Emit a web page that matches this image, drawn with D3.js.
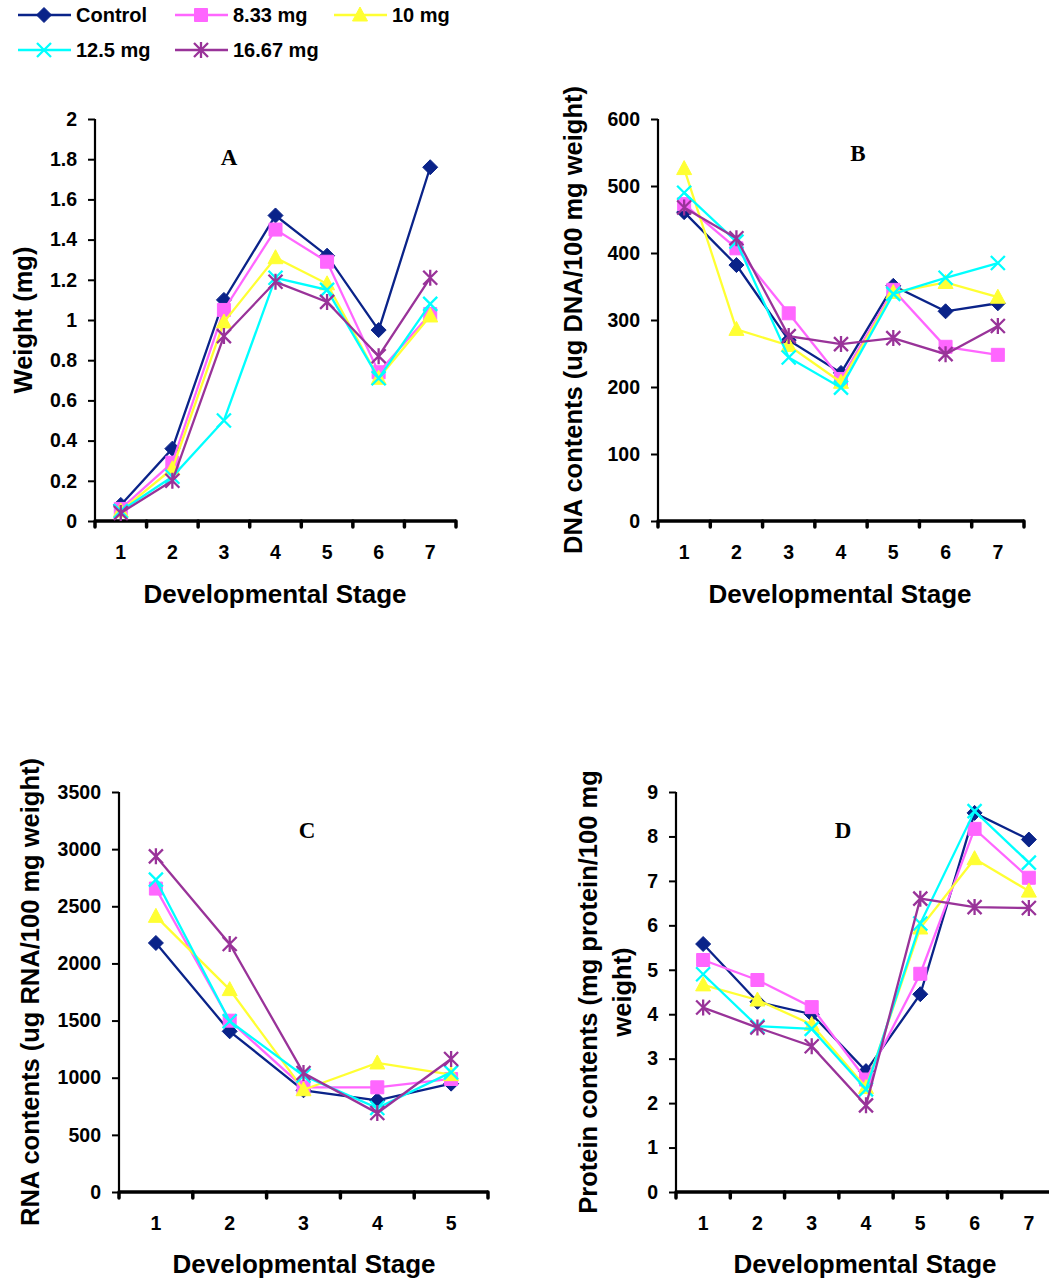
<!DOCTYPE html>
<html lang="en">
<head>
<meta charset="utf-8">
<title>Developmental stage charts</title>
<script src="https://cdn.jsdelivr.net/npm/d3@7"></script>
<style>
  body { margin: 0; background: #fff; }
  svg text { font-family: "Liberation Sans", Arial, sans-serif; font-weight: bold; fill: #000; }
  .letter { font-family: "Liberation Serif", "Times New Roman", serif; font-size: 23px; }
</style>
</head>
<body>
<script>

// series
var seriesNames = ["Control", "8.33 mg", "10 mg", "12.5 mg", "16.67 mg"];
var seriesColors = ["#0a2389", "#ff66ff", "#ffff33", "#00ffff", "#993399"];
var markerTypes = ["diamond", "square", "triangle", "cross", "star"];

var stages7 = [1, 2, 3, 4, 5, 6, 7];
var stages5 = [1, 2, 3, 4, 5];

// A - weight (mg), one row per series
var weightValues = [
  [0.08, 0.36, 1.10, 1.52, 1.32, 0.95, 1.76],
  [0.06, 0.29, 1.05, 1.45, 1.29, 0.74, 1.03],
  [0.05, 0.26, 0.99, 1.31, 1.18, 0.71, 1.02],
  [0.05, 0.22, 0.50, 1.21, 1.15, 0.71, 1.08],
  [0.04, 0.20, 0.92, 1.19, 1.09, 0.82, 1.21]
];
// B - DNA
var dnaValues = [
  [461, 382, 270, 221, 351, 313, 325],
  [473, 407, 310, 212, 345, 260, 248],
  [526, 286, 262, 207, 341, 356, 334],
  [490, 417, 244, 199, 339, 363, 385],
  [468, 422, 276, 264, 273, 249, 291]
];
// C - RNA
var rnaValues = [
  [2179, 1406, 890, 802, 948],
  [2655, 1499, 916, 916, 989],
  [2412, 1771, 895, 1129, 1027],
  [2733, 1494, 1018, 735, 1047],
  [2937, 2170, 1041, 691, 1164]
];
// D - protein
var proteinValues = [
  [5.58, 4.28, 4.00, 2.72, 4.45, 8.53, 7.93],
  [5.22, 4.77, 4.16, 2.53, 4.91, 8.17, 7.07],
  [4.66, 4.32, 3.77, 2.35, 5.94, 7.50, 6.77],
  [4.90, 3.73, 3.67, 2.31, 6.04, 8.57, 7.41],
  [4.15, 3.70, 3.28, 1.95, 6.60, 6.41, 6.39]
];

var weightTicks = [0, 0.2, 0.4, 0.6, 0.8, 1, 1.2, 1.4, 1.6, 1.8, 2];
var dnaTicks = [0, 100, 200, 300, 400, 500, 600];
var rnaTicks = [0, 500, 1000, 1500, 2000, 2500, 3000, 3500];
var proteinTicks = [0, 1, 2, 3, 4, 5, 6, 7, 8, 9];

var svg = d3.select("body").append("svg")
  .attr("width", 1049)
  .attr("height", 1281);

var panels = [
  { letter: "A", stages: stages7, values: weightValues, ticks: weightTicks,
    x0: 95, x1: 456, yTop: 119, yBot: 521, letterX: 229, letterY: 165,
    yLabel: ["Weight (mg)"], yLabelX: [23], titleX: 275, titleY: 603 },
  { letter: "B", stages: stages7, values: dnaValues, ticks: dnaTicks,
    x0: 658, x1: 1024, yTop: 119, yBot: 521, letterX: 858, letterY: 161,
    yLabel: ["DNA contents (ug DNA/100 mg weight)"], yLabelX: [573], titleX: 840, titleY: 603 },
  { letter: "C", stages: stages5, values: rnaValues, ticks: rnaTicks,
    x0: 119, x1: 488, yTop: 792, yBot: 1192, letterX: 307, letterY: 838,
    yLabel: ["RNA contents (ug RNA/100 mg weight)"], yLabelX: [30], titleX: 304, titleY: 1273 },
  { letter: "D", stages: stages7, values: proteinValues, ticks: proteinTicks,
    x0: 676, x1: 1056, yTop: 792, yBot: 1192, letterX: 843, letterY: 838,
    yLabel: ["Protein contents (mg protein/100 mg", "weight)"], yLabelX: [588, 622], titleX: 865, titleY: 1273 }
];

function markerPath(type) {
  switch (type) {
    case "diamond": return "M0,-7.5L7.5,0L0,7.5L-7.5,0Z";
    case "square": return "M-6.5,-6.5H6.5V6.5H-6.5Z";
    case "triangle": return "M0,-8L7.5,6H-7.5Z";
    case "cross": return "M-7,-7L7,7M-7,7L7,-7";
    case "star": return "M-7,-7L7,7M-7,7L7,-7M0,-8V8";
  }
}

function drawMarker(sel, i) {
  var t = markerTypes[i];
  var filled = (t === "diamond" || t === "square" || t === "triangle");
  sel.append("path")
    .attr("d", markerPath(t))
    .attr("fill", filled ? seriesColors[i] : "none")
    .attr("stroke", seriesColors[i])
    .attr("stroke-width", filled ? 1 : 2.3);
}

panels.forEach(function(p) {
  var g = svg.append("g");
  var max = p.ticks[p.ticks.length - 1];

  var x = d3.scaleBand().domain(p.stages).range([p.x0, p.x1]);
  var y = d3.scaleLinear().domain([0, max]).range([p.yBot, p.yTop]);

  // y axis
  var yAxis = d3.axisLeft(y)
    .tickValues(p.ticks)
    .tickSize(7)
    .tickPadding(11)
    .tickFormat(function(d) { return String(d); });
  var ya = g.append("g")
    .attr("transform", "translate(" + p.x0 + ",0)")
    .call(yAxis);
  ya.select(".domain").remove();
  ya.selectAll("line").attr("stroke", "#000").attr("stroke-width", 2);
  ya.selectAll("text").attr("font-size", 19.5).attr("font-family", null);
  g.append("line")
    .attr("x1", p.x0).attr("x2", p.x0)
    .attr("y1", y(max)).attr("y2", p.yBot)
    .attr("stroke", "#000").attr("stroke-width", 2.2);

  // x axis
  var xAxis = d3.axisBottom(x).tickSize(0).tickPadding(24);
  var xa = g.append("g")
    .attr("transform", "translate(0," + p.yBot + ")")
    .call(xAxis);
  xa.select(".domain").remove();
  xa.selectAll("text").attr("font-size", 19.5).attr("font-family", null);

  var bounds = p.stages.map(function(d) { return x(d); }).concat([x.range()[1]]);
  g.selectAll(".xtick")
    .data(bounds)
    .enter().append("line")
    .attr("class", "xtick")
    .attr("x1", function(d) { return d; })
    .attr("x2", function(d) { return d; })
    .attr("y1", p.yBot)
    .attr("y2", p.yBot + 6)
    .attr("stroke", "#000")
    .attr("stroke-width", 3.5)
    .attr("stroke-linecap", "round");
  g.append("line")
    .attr("x1", x.range()[0]).attr("x2", x.range()[1])
    .attr("y1", p.yBot).attr("y2", p.yBot)
    .attr("stroke", "#000").attr("stroke-width", 3.5);

  // series
  var line = d3.line()
    .x(function(d, i) { return x(p.stages[i]) + x.bandwidth() / 2; })
    .y(function(d) { return y(d); });

  p.values.forEach(function(vals, si) {
    var s = g.append("g");
    s.append("path")
      .attr("d", line(vals))
      .attr("fill", "none")
      .attr("stroke", seriesColors[si])
      .attr("stroke-width", 2.3);
    s.selectAll(".pt")
      .data(vals)
      .enter().append("g")
      .attr("class", "pt")
      .attr("transform", function(d, i) {
        return "translate(" + (x(p.stages[i]) + x.bandwidth() / 2) + "," + y(d) + ")";
      })
      .each(function() { drawMarker(d3.select(this), si); });
  });

  // labels
  g.append("text")
    .attr("class", "letter")
    .attr("x", p.letterX).attr("y", p.letterY)
    .attr("text-anchor", "middle")
    .text(p.letter);

  g.append("text")
    .attr("x", p.titleX).attr("y", p.titleY)
    .attr("text-anchor", "middle")
    .attr("font-size", 26)
    .text("Developmental Stage");

  var midY = (p.yTop + p.yBot) / 2;
  p.yLabel.forEach(function(t, k) {
    g.append("text")
      .attr("transform", "translate(" + p.yLabelX[k] + "," + midY + ") rotate(-90)")
      .attr("text-anchor", "middle")
      .attr("dy", "0.36em")
      .attr("font-size", 25.5)
      .text(t);
  });
});

// legend
var legendPos = [[18, 15], [175, 15], [334, 15], [18, 50], [175, 50]];
var legend = svg.append("g");
seriesNames.forEach(function(name, i) {
  var lx = legendPos[i][0], ly = legendPos[i][1];
  var e = legend.append("g").attr("transform", "translate(" + lx + "," + ly + ")");
  e.append("line")
    .attr("x1", 0).attr("x2", 53)
    .attr("y1", 0).attr("y2", 0)
    .attr("stroke", seriesColors[i]).attr("stroke-width", 2.3);
  var m = e.append("g").attr("transform", "translate(26,0)");
  drawMarker(m, i);
  e.append("text")
    .attr("x", 58).attr("y", 0)
    .attr("dy", "0.36em")
    .attr("font-size", 20)
    .text(name);
});

</script>
</body>
</html>
